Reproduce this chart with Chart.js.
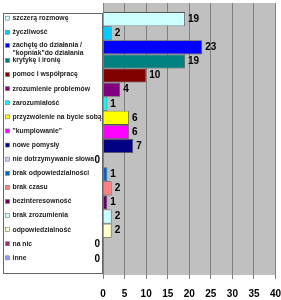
<!DOCTYPE html>
<html>
<head>
<meta charset="utf-8">
<script src="https://cdn.jsdelivr.net/npm/chart.js@4/dist/chart.umd.min.js"></script>
<style>
  html, body { margin: 0; padding: 0; background: #fff; }
  #wrap { width: 281px; height: 300px; }
</style>
</head>
<body>
<div id="wrap"><canvas id="chart" width="281" height="300"></canvas></div>
<script>
const categories = [
  'szczerą rozmowę',
  'życzliwość',
  ['zachętę do działania /', '"kopniak"do działania'],
  'krytykę i ironię',
  'pomoc i współpracę',
  'zrozumienie problemów',
  'zarozumiałość',
  'przyzwolenie na bycie sobą',
  '"kumplowanie"',
  'nowe pomysły',
  'nie dotrzymywanie słowa',
  'brak odpowiedzialności',
  'brak czasu',
  'bezinteresowność',
  'brak zrozumienia',
  'odpowiedzialność',
  'na nic',
  'inne',
];
const counts = [19, 2, 23, 19, 10, 4, 1, 6, 6, 7, 0, 1, 2, 1, 2, 2, 0, 0];
const colors = [
  '#CCFFFF', '#00CCFF', '#0000FF', '#008080', '#800000', '#800080',
  '#00FFFF', '#FFFF00', '#FF00FF', '#000080', '#CCCCFF', '#0066CC',
  '#FF8080', '#660066', '#CCFFFF', '#FFFFCC', '#993366', '#9999FF',
];
const xTicks = [0, 5, 10, 15, 20, 25, 30, 35, 40];

const FONT = '"Liberation Sans", Arial, sans-serif';

const datasets = categories.map((name, i) => ({
  label: Array.isArray(name) ? name.join(' ') : name,
  data: [counts[i]],
  backgroundColor: colors[i],
  borderColor: '#555',
  borderWidth: 0.8,
  categoryPercentage: 0.933,
  barPercentage: 1,
}));

const plotBg = {
  id: 'plotBg',
  beforeDraw(chart) {
    const { ctx, chartArea: a } = chart;
    ctx.save();
    ctx.fillStyle = '#C0C0C0';
    ctx.fillRect(a.left, a.top, a.right - a.left, a.bottom - a.top);
    ctx.restore();
  },
};

const legendAndLabels = {
  id: 'legendAndLabels',
  afterDraw(chart) {
    const { ctx } = chart;
    ctx.save();
    // legend box
    ctx.fillStyle = '#fff';
    ctx.fillRect(3.5, 13.5, 99, 260);
    ctx.strokeStyle = '#666';
    ctx.lineWidth = 1;
    ctx.strokeRect(3.5, 13.5, 99, 260);

    ctx.font = 'bold 6.8px ' + FONT;
    ctx.textBaseline = 'middle';
    ctx.textAlign = 'left';
    categories.forEach((name, i) => {
      const bar = chart.getDatasetMeta(i).data[0];
      const lines = Array.isArray(name) ? name : [name];
      const y = bar.y - (lines.length > 1 ? 2 : 1);
      ctx.fillStyle = colors[i];
      ctx.fillRect(5.5, y - 2, 4, 4);
      ctx.strokeStyle = '#777';
      ctx.lineWidth = 0.6;
      ctx.strokeRect(5.5, y - 2, 4, 4);
      ctx.fillStyle = '#222';
      lines.forEach((t, k) => ctx.fillText(t, 12.5, y + k * 7.5));
    });

    // value labels
    ctx.font = 'bold 10px ' + FONT;
    ctx.fillStyle = '#000';
    categories.forEach((name, i) => {
      const bar = chart.getDatasetMeta(i).data[0];
      const v = counts[i];
      if (v === 0) {
        ctx.textAlign = 'right';
        ctx.fillText(String(v), bar.base - 3, bar.y);
      } else {
        ctx.textAlign = 'left';
        ctx.fillText(String(v), bar.x + 3, bar.y);
      }
    });
    ctx.restore();
  },
};

new Chart(document.getElementById('chart'), {
  type: 'bar',
  data: { labels: [''], datasets },
  options: {
    indexAxis: 'y',
    responsive: false,
    animation: false,
    layout: { padding: { left: 103, right: 0, top: 3, bottom: 0 } },
    plugins: { legend: { display: false }, tooltip: { enabled: false } },
    scales: {
      y: {
        display: false,
      },
      x: {
        min: 0,
        max: 40,
        afterBuildTicks(axis) {
          axis.ticks = xTicks.map((v) => ({ value: v }));
        },
        afterFit(axis) {
          axis.height = 25;
          axis.paddingLeft = 0;
          axis.paddingRight = 5.5;
        },
        grid: {
          color: '#808080',
          lineWidth: 1,
          tickLength: 4,
          tickColor: '#808080',
        },
        border: { display: false },
        ticks: {
          color: '#000',
          padding: 9,
          font: { family: FONT, size: 10, weight: 'bold' },
        },
      },
    },
  },
  plugins: [plotBg, legendAndLabels],
});
</script>
</body>
</html>
